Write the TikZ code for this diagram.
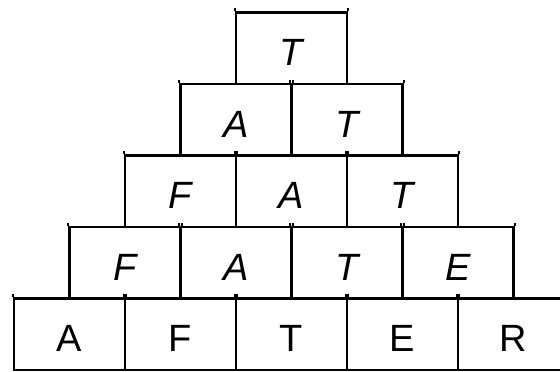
\documentclass[tikz,border=0pt]{standalone}
\usepackage{fontspec}
\setmainfont{Liberation Sans}

\begin{document}
\begin{tikzpicture}[x=0.025cm, y=0.025cm, line width=1.5pt,
    cell/.style={draw, minimum width=2.775cm, minimum height=1.7875cm, inner sep=0pt,
        text height=25pt, text depth=0pt, font=\fontsize{27}{30}\selectfont},
    word/.style={cell, font=\fontsize{27}{30}\selectfont\itshape}]
    \useasboundingbox (0,0) rectangle (560,371);
    \clip (0,0) rectangle (560,371);

    % top row
    \node[word] (t1) at (291.5,322.75) {T};

    % second row
    \node[word] (a2) at (236,251.25) {A};
    \node[word] (t2) at (347,251.25) {T};

    % third row
    \node[word] (f3) at (180.5,179.75) {F};
    \node[word] (a3) at (291.5,179.75) {A};
    \node[word] (t3) at (402.5,179.75) {T};

    % fourth row
    \node[word] (f4) at (125,108.25) {F};
    \node[word] (a4) at (236,108.25) {A};
    \node[word] (t4) at (347,108.25) {T};
    \node[word] (e4) at (458,108.25) {E};

    % bottom row, the word itself
    \node[cell] (a5) at (69.5,36.75) {A};
    \node[cell] (f5) at (180.5,36.75) {F};
    \node[cell] (t5) at (291.5,36.75) {T};
    \node[cell] (e5) at (402.5,36.75) {E};
    \node[cell] (r5) at (513.5,36.75) {R};

    % little ticks above the corners
    \foreach \n in {t1,a2,t2,f3,a3,t3,f4,a4,t4,e4,a5,f5,t5,e5,r5}
        \draw (\n.north west) -- ++(0,3) (\n.north east) -- ++(0,3);
\end{tikzpicture}
\end{document}
